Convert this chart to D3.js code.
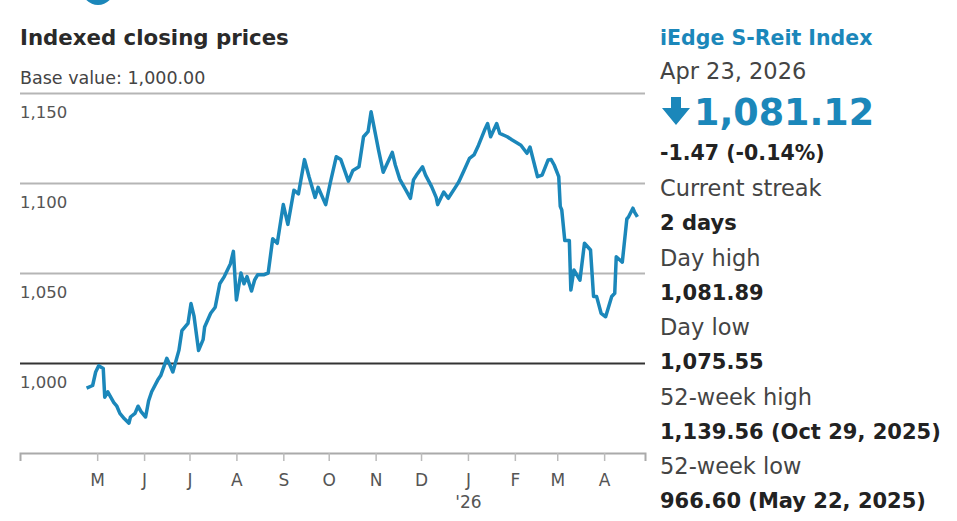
<!DOCTYPE html>
<html>
<head>
<meta charset="utf-8">
<script src="https://cdn.jsdelivr.net/npm/d3@7"></script>
<style>
  html, body { margin: 0; background: #fff; overflow: hidden; }
  svg { display: block; font-family: "DejaVu Sans", sans-serif; }
</style>
</head>
<body>
<div id="chart"></div>
<script>
// closing values of the index
const dates = [
  '2025-04-24','2025-04-28','2025-04-30','2025-05-02','2025-05-05','2025-05-06','2025-05-08','2025-05-12',
  '2025-05-14','2025-05-16','2025-05-19','2025-05-22','2025-05-23','2025-05-26','2025-05-28','2025-05-30',
  '2025-06-02','2025-06-04','2025-06-06','2025-06-10','2025-06-12','2025-06-16','2025-06-18','2025-06-20',
  '2025-06-24','2025-06-26','2025-06-30','2025-07-02','2025-07-04','2025-07-07','2025-07-10','2025-07-11',
  '2025-07-15','2025-07-18','2025-07-21','2025-07-24','2025-07-28','2025-07-30','2025-08-01','2025-08-04',
  '2025-08-06','2025-08-08','2025-08-11','2025-08-13','2025-08-15','2025-08-19','2025-08-22','2025-08-25',
  '2025-08-28','2025-09-01','2025-09-04','2025-09-08','2025-09-11','2025-09-15','2025-09-18','2025-09-22',
  '2025-09-24','2025-09-29','2025-10-02','2025-10-06','2025-10-09','2025-10-14','2025-10-17','2025-10-21',
  '2025-10-24','2025-10-27','2025-10-29','2025-11-03','2025-11-06','2025-11-12','2025-11-14','2025-11-17',
  '2025-11-21','2025-11-24','2025-11-26','2025-11-28','2025-12-02','2025-12-04','2025-12-08','2025-12-11',
  '2025-12-12','2025-12-16','2025-12-19','2025-12-24','2025-12-26','2025-12-30','2026-01-02','2026-01-05',
  '2026-01-08','2026-01-12','2026-01-14','2026-01-16','2026-01-20','2026-01-22','2026-01-27','2026-01-30',
  '2026-02-05','2026-02-09','2026-02-11','2026-02-16','2026-02-19','2026-02-23','2026-02-25','2026-02-27',
  '2026-03-02','2026-03-03','2026-03-04','2026-03-06','2026-03-09','2026-03-10','2026-03-12','2026-03-16',
  '2026-03-19','2026-03-23','2026-03-25','2026-03-27','2026-03-30','2026-04-02','2026-04-06','2026-04-08',
  '2026-04-09','2026-04-13','2026-04-15','2026-04-16','2026-04-17','2026-04-20','2026-04-21','2026-04-22',
  '2026-04-23'
];
const closes = [
  986, 987.5, 995, 998.5, 997, 981, 984, 978,
  976, 972, 969, 966.6, 970, 972, 976, 973,
  970, 979, 984, 990.5, 993, 1002.6, 999, 995,
  1007, 1018, 1022, 1033, 1026, 1007, 1013, 1020,
  1027.6, 1031, 1044, 1048, 1055, 1062, 1035, 1050,
  1044, 1048, 1040, 1046, 1049, 1049, 1050, 1069,
  1066.5, 1088, 1077, 1096, 1094, 1113, 1103.5, 1092,
  1097.6, 1088, 1100, 1114.6, 1113, 1101, 1107, 1109,
  1125.7, 1128.5, 1139.56, 1118, 1106, 1117, 1110, 1102,
  1096, 1091.5, 1101.7, 1104.4, 1109, 1104.4, 1098, 1092,
  1088, 1095, 1091.5, 1098, 1100.7, 1108, 1113.7, 1115.6,
  1121, 1129.4, 1133, 1125.7, 1133, 1127.6, 1125.7, 1124,
  1121, 1116.5, 1120, 1103.5, 1104.4, 1112.8, 1113, 1110,
  1103.5, 1087, 1085, 1068, 1068, 1040.5, 1051.7, 1046,
  1066.5, 1062.8, 1037, 1037, 1027.6, 1025.7, 1037, 1038.7,
  1059, 1056, 1072, 1080, 1081, 1086, 1084, 1082.59,
  1081.12
];
const yTicks = [1000, 1050, 1100, 1150];
const baseValue = 1000;

// right-hand summary panel
const indexName = 'iEdge S-Reit Index';
const asOf = 'Apr 23, 2026';
const lastClose = '1,081.12';
const change = '-1.47 (-0.14%)';
const statLabels = ['Current streak', 'Day high', 'Day low', '52-week high', '52-week low'];
const statValues = ['2 days', '1,081.89', '1,075.55', '1,139.56 (Oct 29, 2025)', '966.60 (May 22, 2025)'];

const width = 957;
const height = 521;
const margins = { top: 93, right: 312, bottom: 68, left: 20 };
const innerWidth = width - margins.left - margins.right;
const innerHeight = height - margins.top - margins.bottom;
const blue = '#1b87ba';
const parseDate = d3.timeParse('%Y-%m-%d');

const data = dates.map((d, i) => ({ date: parseDate(d), value: closes[i] }));

const svg = d3.select('#chart').append('svg')
  .attr('width', width)
  .attr('height', height);

// cut-off logo at the very top
svg.append('circle')
  .attr('cx', 98).attr('cy', -11).attr('r', 16)
  .attr('fill', blue);

svg.append('text')
  .attr('x', 20).attr('y', 45)
  .attr('font-size', 21.3).attr('font-weight', 700).attr('fill', '#2a2a2a')
  .text('Indexed closing prices');

svg.append('text')
  .attr('x', 20).attr('y', 84)
  .attr('font-size', 17.5).attr('fill', '#444')
  .text('Base value: 1,000.00');

const g = svg.append('g')
  .attr('transform', `translate(${margins.left},${margins.top})`);

const xScale = d3.scaleTime()
  .domain([new Date(2025, 2, 11), new Date(2026, 3, 28)])
  .range([0, innerWidth]);

const yScale = d3.scaleLinear()
  .domain([950, 1150])
  .range([innerHeight, 0]);

// gridlines with labels tucked under each line
const yAxis = d3.axisRight(yScale)
  .tickValues(yTicks)
  .tickSize(innerWidth)
  .tickFormat(d3.format(','));

g.append('g')
  .attr('class', 'y axis')
  .call(yAxis)
  .call(s => s.select('.domain').remove())
  .call(s => s.selectAll('.tick line')
    .attr('stroke', d => d === baseValue ? '#333' : '#b5b5b5')
    .attr('stroke-width', 2))
  .call(s => s.selectAll('.tick text')
    .attr('x', 0).attr('dy', 24)
    .attr('text-anchor', 'start')
    .attr('font-size', 16.5).attr('fill', '#555')
    .attr('font-family', '"DejaVu Sans", sans-serif'));

const xAxis = d3.axisBottom(xScale)
  .ticks(d3.timeMonth.every(1))
  .tickSize(8)
  .tickPadding(13)
  .tickFormat(d => d3.timeFormat('%b')(d).charAt(0));

const xg = g.append('g')
  .attr('class', 'x axis')
  .attr('transform', `translate(0,${innerHeight})`)
  .call(xAxis);

xg.select('.domain')
  .attr('stroke', '#aaa').attr('stroke-width', 2);
xg.selectAll('.tick line').attr('stroke', '#bbb').attr('stroke-width', 1.5);
xg.selectAll('.tick text')
  .attr('font-size', 17).attr('fill', '#555')
  .attr('font-family', '"DejaVu Sans", sans-serif');
// drop the March 2025 tick that falls before the data
xg.selectAll('.tick').filter(d => d < data[0].date).remove();

// year marker under January
xg.selectAll('.tick').filter(d => d.getMonth() === 0)
  .append('text')
  .attr('y', 55).attr('fill', '#555')
  .attr('font-size', 17).attr('font-family', '"DejaVu Sans", sans-serif')
  .text("'26");

const line = d3.line()
  .x(d => xScale(d.date))
  .y(d => yScale(d.value));

g.append('path')
  .datum(data)
  .attr('fill', 'none')
  .attr('stroke', blue)
  .attr('stroke-width', 3.5)
  .attr('stroke-linejoin', 'round')
  .attr('d', line);

// summary panel
const px = 660;
svg.append('text')
  .attr('x', px).attr('y', 45)
  .attr('font-size', 20.5).attr('font-weight', 700).attr('fill', blue)
  .text(indexName);

svg.append('text')
  .attr('x', px).attr('y', 79)
  .attr('font-size', 22.5).attr('fill', '#444')
  .text(asOf);

// down arrow
svg.append('path')
  .attr('d', 'M671,97 H681 V108 H690 L676,125 L662,108 H671 Z')
  .attr('fill', blue);

svg.append('text')
  .attr('x', 694).attr('y', 125)
  .attr('font-size', 36.5).attr('font-weight', 700).attr('fill', blue)
  .text(lastClose);

svg.append('text')
  .attr('x', px).attr('y', 160)
  .attr('font-size', 20.5).attr('font-weight', 700).attr('fill', '#222')
  .text(change);

statLabels.forEach((label, i) => {
  const y0 = 196 + i * 69.5;
  svg.append('text')
    .attr('x', px).attr('y', y0)
    .attr('font-size', 22.5).attr('fill', '#444')
    .text(label);
  svg.append('text')
    .attr('x', px).attr('y', y0 + 34)
    .attr('font-size', 21).attr('font-weight', 700).attr('fill', '#222')
    .text(statValues[i]);
});
</script>
</body>
</html>
